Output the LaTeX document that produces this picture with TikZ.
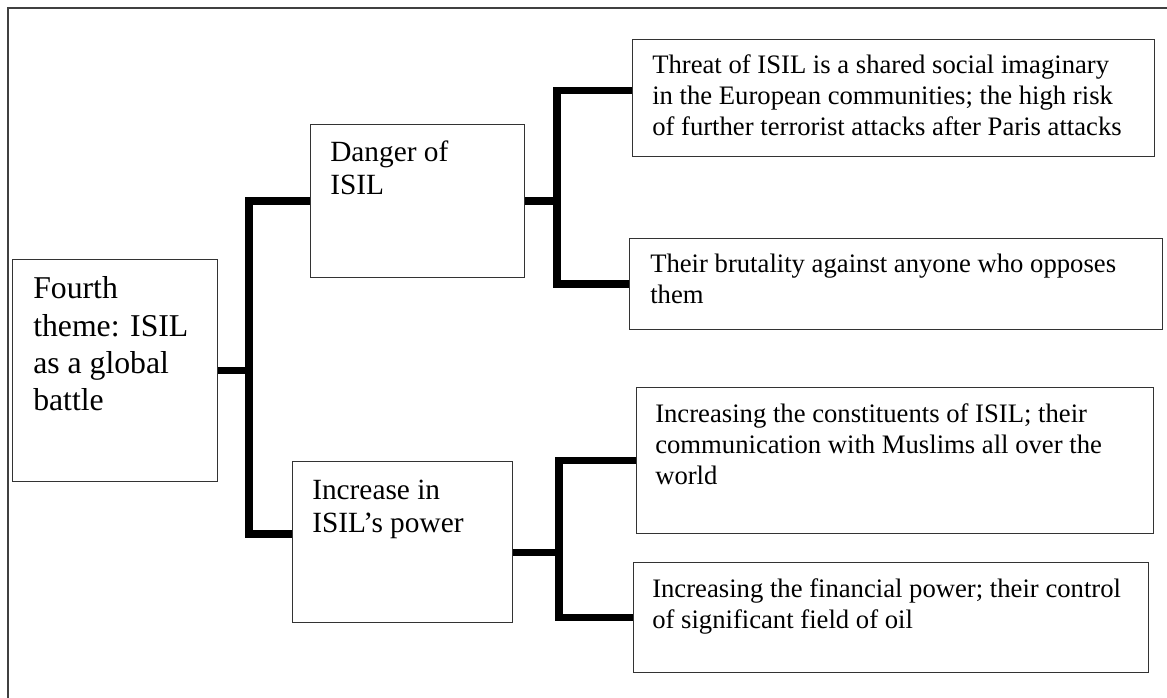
\documentclass[tikz,border=0pt]{standalone}
\usepackage{fontspec}
\setmainfont{Liberation Serif}
\usetikzlibrary{positioning}

\begin{document}
\begin{tikzpicture}[
  x=0.75pt, y=-0.75pt,
  box/.style={draw=black!80, line width=0.9pt, anchor=north west, inner sep=0pt},
  txt/.style={anchor=base west, inner sep=0pt, align=left},
  rootfont/.style={txt, font=\fontsize{23.8}{28}\selectfont},
  midfont/.style={txt, font=\fontsize{22}{24.75}\selectfont},
  leaffont/.style={txt, font=\fontsize{20}{23.25}\selectfont},
  bar/.style={line width=5.6pt, line join=miter}
]
\useasboundingbox (0,0) rectangle (1167,698);
\draw[line width=1pt, black!75] (8,698) -- (8,8) -- (1167,8);

% text nodes sit on the baseline of their last line
\node[box, minimum width=153.75pt, minimum height=166.5pt] (root) at (12,259) {};
\node[rootfont] (rootText) at (33,411) {Fourth\\theme: ISIL\\as a global\\battle};

\node[box, minimum width=160.5pt, minimum height=114.75pt] (danger) at (310,124) {};
\node[midfont] (dangerText) at (330,195) {Danger of\\ISIL};

\node[box, minimum width=165pt, minimum height=120.75pt] (increase) at (292,461) {};
\node[midfont] (increaseText) at (312,532) {Increase in\\ISIL’s power};

\node[box, minimum width=391.5pt, minimum height=87.75pt] (threat) at (632,39) {};
\node[leaffont] (threatText) at (652,136) {Threat of ISIL is a shared social imaginary\\in the European communities; the high risk\\of further terrorist attacks after Paris attacks};

\node[box, minimum width=399.75pt, minimum height=68.25pt] (brutality) at (629,238) {};
\node[leaffont] (brutalityText) at (650,304) {Their brutality against anyone who opposes\\them};

\node[box, minimum width=387.75pt, minimum height=109.5pt] (members) at (636,387) {};
\node[leaffont] (membersText) at (655,484) {Increasing the constituents of ISIL; their\\communication with Muslims all over the\\world};

\node[box, minimum width=386.25pt, minimum height=82.5pt] (money) at (633,562) {};
\node[leaffont] (moneyText) at (652,628) {Increasing the financial power; their control\\of significant field of oil};

% brackets
\draw[bar] (danger.west) -- ++(-61,0) coordinate (t1) |- ([yshift=6pt]increase.west);
\draw[bar] (root.east) -- (root.east -| t1);

\draw[bar] ([yshift=5.6pt]threat.west) -- ++(-75,0) coordinate (t2) |- (brutality.west);
\draw[bar] (danger.east) -- (danger.east -| t2);

\draw[bar] (members.west) -- ++(-77,0) coordinate (t3) |- (money.west);
\draw[bar] ([yshift=-7.9pt]increase.east) -- ([yshift=-7.9pt]increase.east -| t3);
\end{tikzpicture}
\end{document}
